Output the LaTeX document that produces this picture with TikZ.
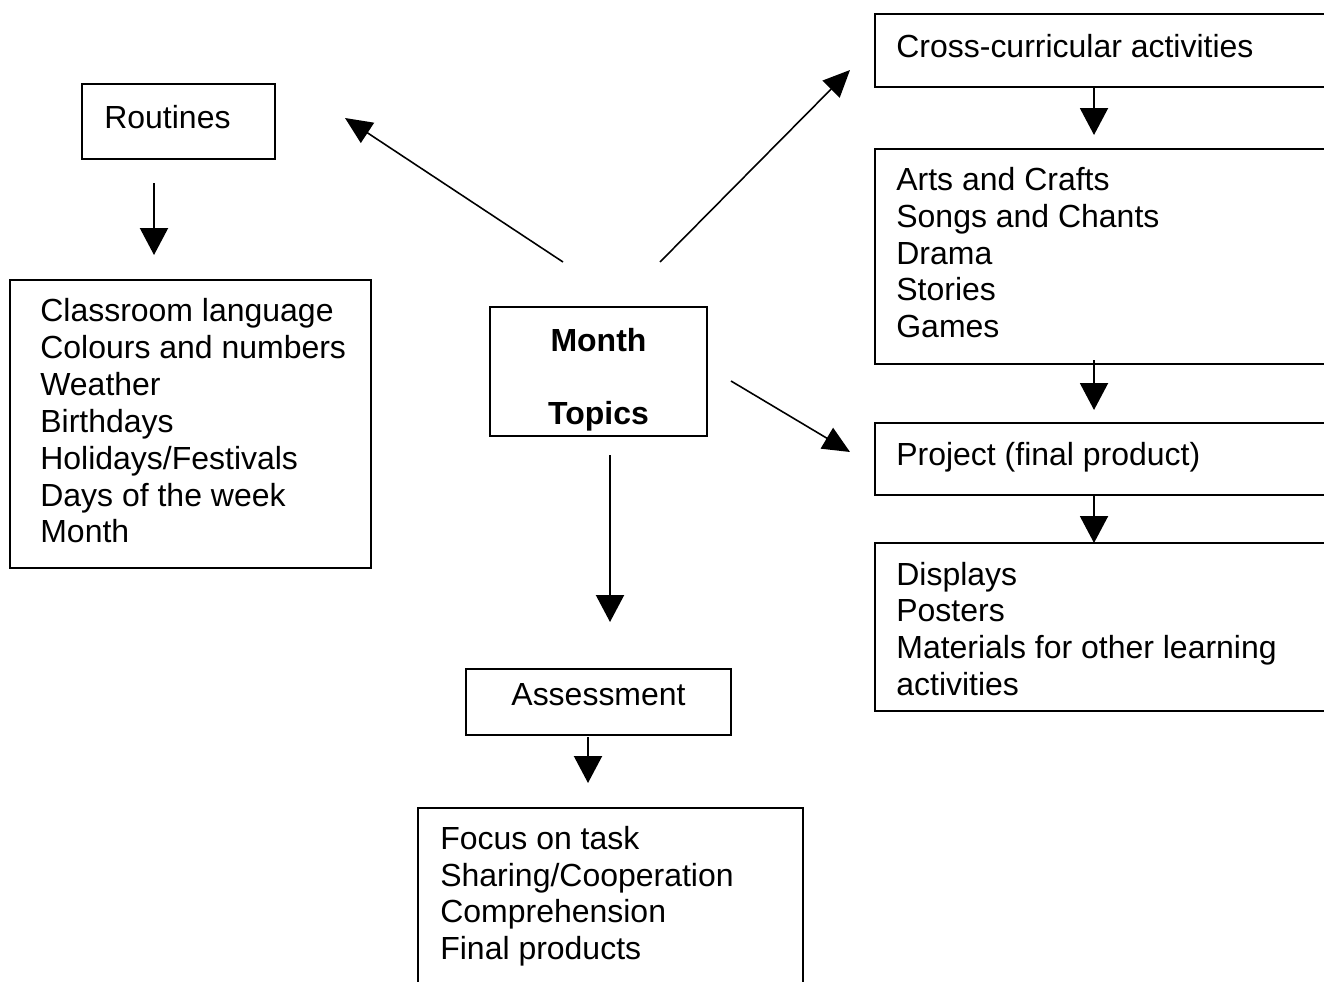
\documentclass[tikz,border=0pt]{standalone}
\usepackage{fontspec}
\setmainfont{Liberation Sans}
\usetikzlibrary{arrows.meta}
\begin{document}
\begin{tikzpicture}[x=0.02cm,y=-0.02cm,
  box/.style={draw,line width=1.2pt,inner sep=0pt,outer sep=0pt},
  txt/.style={anchor=base west,inner sep=0pt,font=\fontsize{18.2}{21}\selectfont},
  ctxt/.style={anchor=base,inner sep=0pt,font=\fontsize{18.2}{21}\selectfont},
  vline/.style={line width=1.2pt,-{Triangle[width=0.56cm,length=0.54cm]}},
  dline/.style={line width=0.9pt,-{Triangle[width=0.48cm,length=0.54cm]}}]
\useasboundingbox (0,0) rectangle (1324,981);
\clip (0,0) rectangle (1324,981);
% boxes
\node[box,minimum width=3.86cm,minimum height=1.5cm] (routines) at (178.5,121.5) {};
\node[box,minimum width=7.22cm,minimum height=5.76cm] (routlist) at (190.5,424) {};
\node[box,minimum width=4.34cm,minimum height=2.58cm] (month) at (598.5,371.5) {};
\node[box,minimum width=9.3cm,minimum height=1.46cm] (cross) at (1107.5,50.5) {};
\node[box,minimum width=9.3cm,minimum height=4.3cm] (arts) at (1107.5,256.5) {};
\node[box,minimum width=9.3cm,minimum height=1.44cm] (project) at (1107.5,459) {};
\node[box,minimum width=9.3cm,minimum height=3.36cm] (displays) at (1107.5,627) {};
\node[box,minimum width=5.3cm,minimum height=1.32cm] (assess) at (598.5,702) {};
\node[box,minimum width=7.7cm,minimum height=3.84cm] (focus) at (610.5,904) {};
% texts
\node[txt] (t1) at (104,128) {Routines};
\node[txt] (t2) at (40,321) {Classroom language};
\node[txt] (t3) at (40,358) {Colours and numbers};
\node[txt] (t4) at (40,395) {Weather};
\node[txt] (t5) at (40,432) {Birthdays};
\node[txt] (t6) at (40,469) {Holidays/Festivals};
\node[txt] (t7) at (40,506) {Days of the week};
\node[txt] (t8) at (40,542) {Month};
\node[ctxt,font=\fontsize{18.2}{21}\selectfont\bfseries] (m1) at (598.5,351) {Month};
\node[ctxt,font=\fontsize{18.2}{21}\selectfont\bfseries] (m2) at (598.5,424) {Topics};
\node[txt] (c1) at (896,57) {Cross-curricular activities};
\node[txt] (a1) at (896,190) {Arts and Crafts};
\node[txt] (a2) at (896,227) {Songs and Chants};
\node[txt] (a3) at (896,264) {Drama};
\node[txt] (a4) at (896,300) {Stories};
\node[txt] (a5) at (896,337) {Games};
\node[txt] (p1) at (896,465) {Project (final product)};
\node[txt] (d1) at (896,585) {Displays};
\node[txt] (d2) at (896,621) {Posters};
\node[txt] (d3) at (896,658) {Materials for other learning};
\node[txt] (d4) at (896,695) {activities};
\node[ctxt] (s1) at (598.5,705) {Assessment};
\node[txt] (f1) at (440,849) {Focus on task};
\node[txt] (f2) at (440,886) {Sharing/Cooperation};
\node[txt] (f3) at (440,922) {Comprehension};
\node[txt] (f4) at (440,959) {Final products};
% connector ends
\coordinate (r1) at (154,183); \coordinate (r2) at (154,255);
\coordinate (mA) at (563,262); \coordinate (rA) at (345,118);
\coordinate (mB) at (660,262); \coordinate (cB) at (850,70);
\coordinate (mC) at (731,381); \coordinate (pC) at (850,452);
\coordinate (mD) at (610,455); \coordinate (sD) at (610,622);
\coordinate (c1s) at (1094,88); \coordinate (a1n) at (1094,135);
\coordinate (a2s) at (1094,360); \coordinate (p2n) at (1094,410);
\coordinate (p3s) at (1094,496); \coordinate (d3n) at (1094,543);
\coordinate (s4s) at (588,737); \coordinate (f4n) at (588,783);
% connectors
\draw[vline] (r1) -- (r2);
\draw[dline] (mA) -- (rA);
\draw[dline] (mB) -- (cB);
\draw[dline] (mC) -- (pC);
\draw[vline] (mD) -- (sD);
\draw[vline] (c1s) -- (a1n);
\draw[vline] (a2s) -- (p2n);
\draw[vline] (p3s) -- (d3n);
\draw[vline] (s4s) -- (f4n);
\end{tikzpicture}
\end{document}
